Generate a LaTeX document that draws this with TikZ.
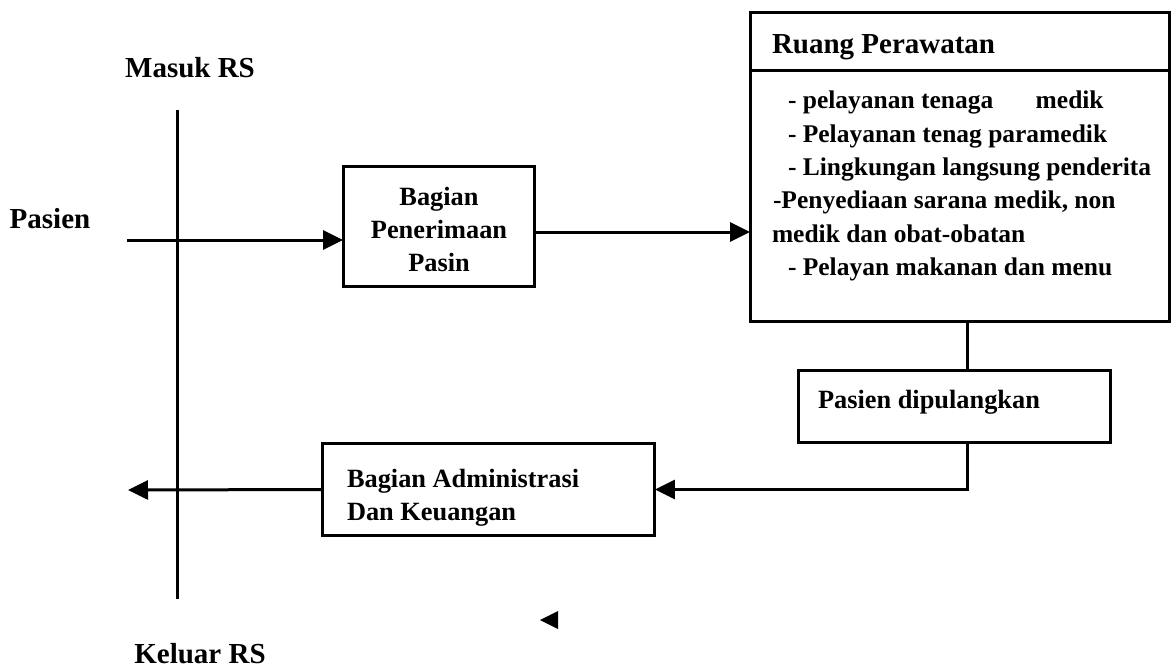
\documentclass[tikz,border=0pt]{standalone}
\usepackage{fontspec}
\setmainfont{Liberation Serif}
\usetikzlibrary{arrows.meta}
\begin{document}
\begin{tikzpicture}[x=0.02cm, y=-0.02cm,
  line width=0.06cm,
  every node/.style={inner sep=0pt, outer sep=0pt},
  box/.style={draw, line width=0.06cm, anchor=north west},
  lbl/.style={font=\fontsize{16.5}{20}\selectfont\bfseries, anchor=base},
  txt/.style={font=\fontsize{15}{18}\selectfont\bfseries, anchor=base west},
  ltxt/.style={font=\fontsize{14.5}{18}\selectfont\bfseries, anchor=base west},
  ctxt/.style={font=\fontsize{15}{18}\selectfont\bfseries, anchor=base},
  flow/.style={-{Triangle[length=0.4cm, width=0.38cm]}}
]
\useasboundingbox (0,0) rectangle (1175,670);

% side labels
\node[lbl] (masuk)  at (190,77)  {Masuk RS};
\node[lbl] (keluar) at (200,663) {Keluar RS};
\node[lbl] (pasien) at (50,228)  {Pasien};

% boundary of the hospital
\coordinate (vtop) at (177,110);
\coordinate (vbot) at (177,599);
\draw (vtop) -- (vbot);

% boxes
\node[box, minimum width=3.84cm, minimum height=2.42cm] (terima) at (343,166) {};
\node[box, minimum width=8.4cm,  minimum height=6.2cm]  (ruang)  at (750,12)  {};
\node[box, minimum width=6.26cm, minimum height=1.46cm] (pulang) at (798,370) {};
\node[box, minimum width=6.66cm, minimum height=1.86cm] (admin)  at (322,443) {};

% texts
\node[ctxt] (t1) at (439,205) {Bagian};
\node[ctxt] (t2) at (439,238) {Penerimaan};
\node[ctxt] (t3) at (439,271) {Pasin};

\node[txt, font=\fontsize{16.5}{20}\selectfont\bfseries] (rt) at (772,53) {Ruang Perawatan};
\coordinate (divy) at (0,70);
\draw (ruang.west |- divy) -- (ruang.east |- divy);
\node[ltxt] (r1) at (788,108) {- pelayanan tenaga\hspace{0.85cm}medik};
\node[ltxt] (r2) at (788,142) {- Pelayanan tenag paramedik};
\node[ltxt] (r3) at (788,175) {- Lingkungan langsung penderita};
\node[ltxt] (r4) at (773,208) {-Penyediaan sarana medik, non};
\node[ltxt] (r5) at (772,242) {medik dan obat-obatan};
\node[ltxt] (r6) at (788,275) {- Pelayan makanan dan menu};

\node[txt] (pt) at (818,408) {Pasien dipulangkan};

\node[txt] (a1) at (347,487) {Bagian Administrasi};
\node[txt] (a2) at (347,520) {Dan Keuangan};

% connectors
\coordinate (pin) at (127,240);
\coordinate (ya) at (0,232);
\coordinate (cx) at (967,0);
\coordinate (pout) at (128,490);
\draw[flow] (pin) -- (terima.west |- pin);
\draw[flow] (terima.east |- ya) -- (ruang.west |- ya);
\draw (ruang.south -| cx) -- (pulang.north -| cx);
\draw[flow] (pulang.south -| cx) |- (admin.east);
\draw[flow] (admin.west) -- (pout);

% stray arrowhead below the administration box
\fill (540,620) -- (558,611) -- (558,629) -- cycle;
\end{tikzpicture}
\end{document}
